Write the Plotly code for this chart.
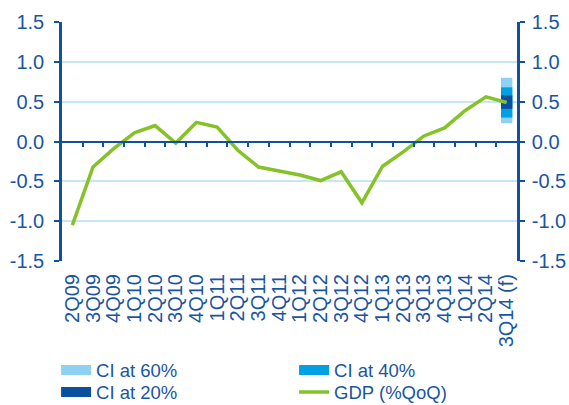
import plotly.graph_objects as go

categories = ["2Q09", "3Q09", "4Q09", "1Q10", "2Q10", "3Q10", "4Q10", "1Q11", "2Q11",
              "3Q11", "4Q11", "1Q12", "2Q12", "3Q12", "4Q12", "1Q13", "2Q13", "3Q13",
              "4Q13", "1Q14", "2Q14", "3Q14 (f)"]
gdp = [-1.05, -0.32, -0.09, 0.11, 0.20, -0.02, 0.24, 0.18, -0.11, -0.32, -0.37, -0.42,
       -0.49, -0.38, -0.77, -0.31, -0.13, 0.07, 0.17, 0.39, 0.56, 0.49]
fan_category = ["3Q14 (f)"]
ci60_low, ci60_high = [0.23], [0.80]
ci40_low, ci40_high = [0.30], [0.68]
ci20_low, ci20_high = [0.41], [0.58]

y_ticks = [-1.5, -1.0, -0.5, 0.0, 0.5, 1.0, 1.5]

C60 = "#8fd1f2"
C40 = "#00a0e3"
C20 = "#0b4f9f"
GREEN = "#84c228"
AXIS = "#1050a0"
TEXT = "#1a55a3"
GRID = "#c8e5f5"
FONT = "Liberation Sans, Arial, sans-serif"

xi = list(range(len(categories)))
fan_x = [categories.index(c) for c in fan_category]

fig = go.Figure()
for lo, hi, col in [(ci60_low, ci60_high, C60), (ci40_low, ci40_high, C40), (ci20_low, ci20_high, C20)]:
    fig.add_trace(go.Bar(x=fan_x, y=[h - l for h, l in zip(hi, lo)], base=lo,
                         marker=dict(color=col, line=dict(width=0)), width=0.55,
                         showlegend=False, hoverinfo="skip"))

# zero-line axis carrier (invisible)
fig.add_trace(go.Scatter(x=[xi[0], xi[-1]], y=[0, 0], xaxis="x2", mode="lines",
                         line=dict(width=0), showlegend=False, hoverinfo="skip"))

fig.add_trace(go.Scatter(x=xi, y=gdp, mode="lines", yaxis="y2",
                         line=dict(color=GREEN, width=3.5), showlegend=False))

# legend entries (two rows, one legend per row)
for name, col, w, lg in [("CI at 60%", C60, 10, "legend"), ("CI at 40%", C40, 10, "legend"),
                         ("CI at 20%", C20, 10, "legend2"), ("GDP (%QoQ)", GREEN, 3.5, "legend2")]:
    fig.add_trace(go.Scatter(x=[None], y=[None], mode="lines", name=name, legend=lg,
                             line=dict(color=col, width=w)))

rng = [-0.5, len(categories) - 0.5]
yax = dict(range=[-1.5, 1.5], tickvals=y_ticks, ticktext=[f"{v:.1f}" for v in y_ticks],
           showline=True, linecolor=AXIS, linewidth=2.5, ticks="outside", ticklen=5,
           tickwidth=2, tickcolor=AXIS, zeroline=False, automargin=False,
           tickfont=dict(family=FONT, size=20, color=TEXT))

leg = dict(orientation="h", x=-0.013, xanchor="left", yanchor="top",
           entrywidth=193, entrywidthmode="pixels", bgcolor="rgba(0,0,0,0)",
           font=dict(family=FONT, size=18.5, color=TEXT), tracegroupgap=0)

fig.update_layout(
    width=569, height=405,
    margin=dict(l=62, r=52, t=22, b=144, autoexpand=False),
    paper_bgcolor="white", plot_bgcolor="white",
    barmode="overlay",
    font=dict(family=FONT, size=18, color=TEXT),
    xaxis=dict(range=rng, tickvals=xi, ticktext=categories, tickangle=-90,
               showline=False, ticks="", showgrid=False, zeroline=False, automargin=False,
               ticklabelstandoff=8,
               tickfont=dict(family=FONT, size=20, color=TEXT)),
    xaxis2=dict(range=rng, overlaying="x", anchor="free", position=0.5, side="bottom",
                tickvals=[i + 0.5 for i in xi[:-1]], showticklabels=False,
                ticks="outside", ticklen=5, tickwidth=1.5, tickcolor=AXIS,
                showline=True, linecolor=AXIS, linewidth=1.5, showgrid=False, zeroline=False),
    yaxis=dict(**yax, side="left", showgrid=True, gridcolor=GRID, gridwidth=1.5,
               ticklabelstandoff=6),
    yaxis2=dict(**yax, side="right", overlaying="y", showgrid=False, ticklabelstandoff=3),
    legend=dict(**leg, y=-0.379),
    legend2=dict(**leg, y=-0.471),
)

fig.write_html("out.html", config={"displayModeBar": False},
               post_script="document.body.style.margin='0';document.body.style.overflow='hidden';")
